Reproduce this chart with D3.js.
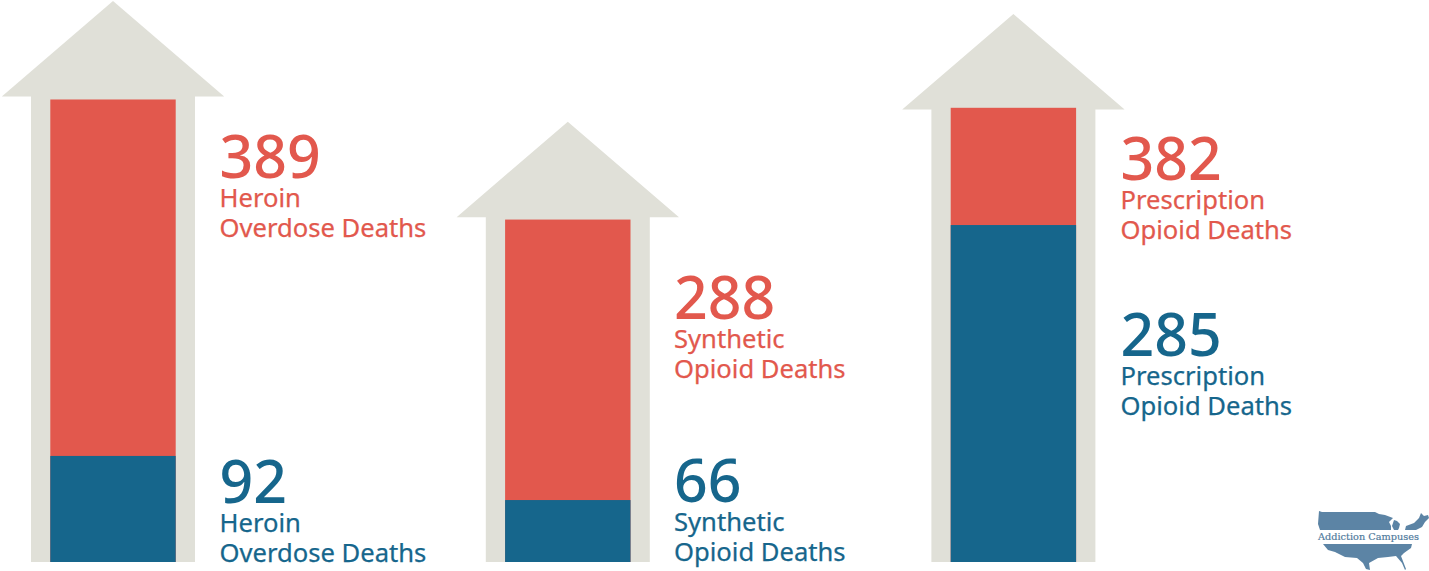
<!DOCTYPE html>
<html>
<head>
<meta charset="utf-8">
<script src="https://cdn.jsdelivr.net/npm/d3@7/dist/d3.min.js"></script>
<style>
html,body{margin:0;padding:0;background:#fff;overflow:hidden}
svg{display:block}
</style>
</head>
<body>
<svg id="chart" width="1429" height="571"></svg>
<script>
// ---- data ----
const categories = ["Heroin", "Synthetic", "Prescription"];
const labelFirstLines = ["Heroin", "Synthetic", "Prescription"];
const labelSecondLines = ["Overdose Deaths", "Opioid Deaths", "Opioid Deaths"];
const redValues = [389, 288, 382];
const blueValues = [92, 66, 285];
// height of the dark inner fill as actually drawn, in the same units as the values
const blueFillLevels = [89.2, 52.1, 283.4];
// level of the roof's eaves for each gauge, same units
const eaveLevels = [391.5, 290.0, 380.5];
const roofRise = 80.3;

// ---- layout and style, not data ----
const W = 1429, H = 571;
const baseY = 562, fullY = 86.4, domainMax = 400;
const centers = [113, 567.8, 1013.4];
const labelXs = [219.5, 674, 1120.5];
const redNumY = [178, 318.5, 180];
const blueNumY = [503, 502, 356];
const redLabelY = [207, 348, 209];
const blueLabelY = [532, 531, 385];
const lineGap = 30;
const COL = {red:"#e2584d", blue:"#16668c", house:"#e0e0d8", logo:"#5c84a5"};
const FONT = "'Noto Sans','Open Sans',sans-serif";

const svg = d3.select("#chart");
const y = d3.scaleLinear().domain([0, domainMax]).range([baseY, fullY]);
const x = d3.scaleOrdinal().domain(categories).range(centers);
const shaftHalf = 82, barHalf = 62.7, roofHalf = 111.2;

const rows = categories.map((c, i) => ({
  c, i, red: redValues[i], blue: blueValues[i], fill: blueFillLevels[i], eave: eaveLevels[i]
}));

const housePath = d => {
  const cx = x(d.c), e = y(d.eave), t = y(d.eave + roofRise);
  return d3.line()([
    [cx, t], [cx + roofHalf, e], [cx + shaftHalf, e], [cx + shaftHalf, y(0)],
    [cx - shaftHalf, y(0)], [cx - shaftHalf, e], [cx - roofHalf, e]
  ]) + "Z";
};

const g = svg.selectAll("g.gauge").data(rows).join("g").attr("class", "gauge");
g.append("path").attr("d", housePath).attr("fill", COL.house);
g.append("rect")
  .attr("x", d => x(d.c) - barHalf).attr("width", barHalf * 2)
  .attr("y", d => y(d.red)).attr("height", d => y(0) - y(d.red))
  .attr("fill", COL.red);
g.append("rect")
  .attr("x", d => x(d.c) - barHalf).attr("width", barHalf * 2)
  .attr("y", d => y(d.fill)).attr("height", d => y(0) - y(d.fill))
  .attr("fill", COL.blue);

function label(sel, key, numYs, lblYs, color) {
  const t = sel.append("g").attr("fill", color).attr("font-family", FONT);
  t.append("text").attr("x", d => labelXs[d.i]).attr("y", d => numYs[d.i])
    .attr("font-size", 59).attr("font-weight", 500).text(d => d[key]);
  const lines = t.append("g").attr("font-size", 25.6).attr("font-weight", 400)
    .attr("stroke", color).attr("stroke-width", 0.25);
  lines.append("text").attr("x", d => labelXs[d.i]).attr("y", d => lblYs[d.i])
    .text(d => labelFirstLines[d.i]);
  lines.append("text").attr("x", d => labelXs[d.i]).attr("y", d => lblYs[d.i] + lineGap)
    .text(d => labelSecondLines[d.i]);
}
label(g, "red", redNumY, redLabelY, COL.red);
label(g, "blue", blueNumY, blueLabelY, COL.blue);

// ---- logo (decorative map outline) ----
const logoUpper = [[1319,511],[1322,512],[1375,512],[1379,514],[1385,515],[1393,518],[1389,522],[1391,526],[1391,530],[1320,530],[1318,524]];
const logoLake = [[1394,520],[1397,521],[1400,524],[1399,528],[1398,530],[1394,530],[1392,526]];
const logoEast = [[1405,530],[1406,526],[1414,523],[1419,518],[1421,513],[1424,516],[1428,515],[1429,518],[1425,522],[1422,527],[1416,530]];
const logoLower = [[1323,544],[1412,544],[1411,548],[1404,553],[1401,556],[1406,569],[1405,570],[1402,563],[1396,556],[1388,557],[1378,558],[1369,563],[1370,570],[1366,569],[1363,563],[1357,558],[1345,557],[1335,552],[1328,550]];
const logo = svg.append("g").attr("fill", COL.logo);
[logoUpper, logoLake, logoEast, logoLower].forEach(p =>
  logo.append("path").attr("d", d3.line()(p) + "Z"));
logo.append("text").attr("x", 1318).attr("y", 540)
  .attr("fill", "#4f7a9c")
  .attr("font-family", "'DejaVu Serif','Liberation Serif',serif")
  .attr("font-size", 10).attr("font-weight", 500).attr("textLength", 101).attr("lengthAdjust", "spacingAndGlyphs")
  .attr("stroke", "#4f7a9c").attr("stroke-width", 0.2)
  .text("Addiction Campuses");
</script>
</body>
</html>
